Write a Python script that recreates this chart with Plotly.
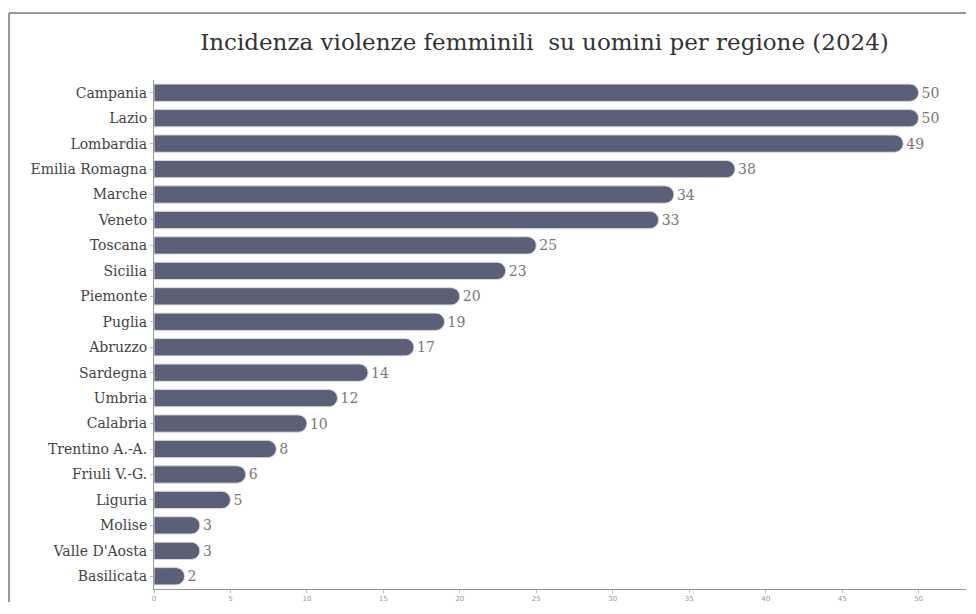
import plotly.graph_objects as go

regioni = ["Campania", "Lazio", "Lombardia", "Emilia Romagna", "Marche", "Veneto",
           "Toscana", "Sicilia", "Piemonte", "Puglia", "Abruzzo", "Sardegna",
           "Umbria", "Calabria", "Trentino A.-A.", "Friuli V.-G.", "Liguria",
           "Molise", "Valle D'Aosta", "Basilicata"]
valori = [50, 50, 49, 38, 34, 33, 25, 23, 20, 19, 17, 14, 12, 10, 8, 6, 5, 3, 3, 2]
x_ticks = [0, 5, 10, 15, 20, 25, 30, 35, 40, 45, 50]

SERIF = "DejaVu Serif, Liberation Serif, serif"

# page has an 8px body margin, so the figure is sized to fit inside it
fig = go.Figure(go.Bar(
    x=valori,
    y=regioni,
    orientation="h",
    marker=dict(color="#5b6078", line=dict(color="#d8dae2", width=1)),
    text=valori,
    textposition="outside",
    cliponaxis=False,
    textfont=dict(family=SERIF, size=14, color="#777777"),
))

# frame: only the left and top edges are visible in the picture
frame_left = -145 / 812
frame_top = 1 + 67 / 509
frame_line = dict(color="#777777", width=1.5)

fig.update_layout(
    width=958,
    height=594,
    margin=dict(l=146, r=0, t=72, b=13),
    paper_bgcolor="white",
    plot_bgcolor="white",
    bargap=0.32,
    barcornerradius=9,
    showlegend=False,
    title=dict(
        text="Incidenza violenze femminili  su uomini per regione (2024)",
        x=0.56, xanchor="center", y=1 - 34 / 594, yanchor="middle",
        font=dict(family=SERIF, size=23, color="#333333"),
    ),
    xaxis=dict(
        range=[0, 53.1],
        tickvals=x_ticks,
        showgrid=False,
        zeroline=False,
        showline=True,
        linecolor="#999999",
        ticks="outside",
        ticklen=3,
        tickcolor="#bbbbbb",
        tickfont=dict(family="DejaVu Sans", size=7, color="#999999"),
    ),
    yaxis=dict(
        categoryorder="array",
        categoryarray=regioni[::-1],
        showgrid=False,
        showline=True,
        linecolor="#999999",
        ticks="outside",
        ticklen=3,
        tickcolor="#bbbbbb",
        tickfont=dict(family=SERIF, size=14, color="#444444"),
    ),
    shapes=[
        dict(type="line", xref="paper", yref="paper",
             x0=frame_left, x1=frame_left, y0=-13 / 509, y1=frame_top,
             line=frame_line, layer="below"),
        dict(type="line", xref="paper", yref="paper",
             x0=frame_left, x1=1.0, y0=frame_top, y1=frame_top,
             line=frame_line, layer="below"),
    ],
)

fig.write_html("out.html")
